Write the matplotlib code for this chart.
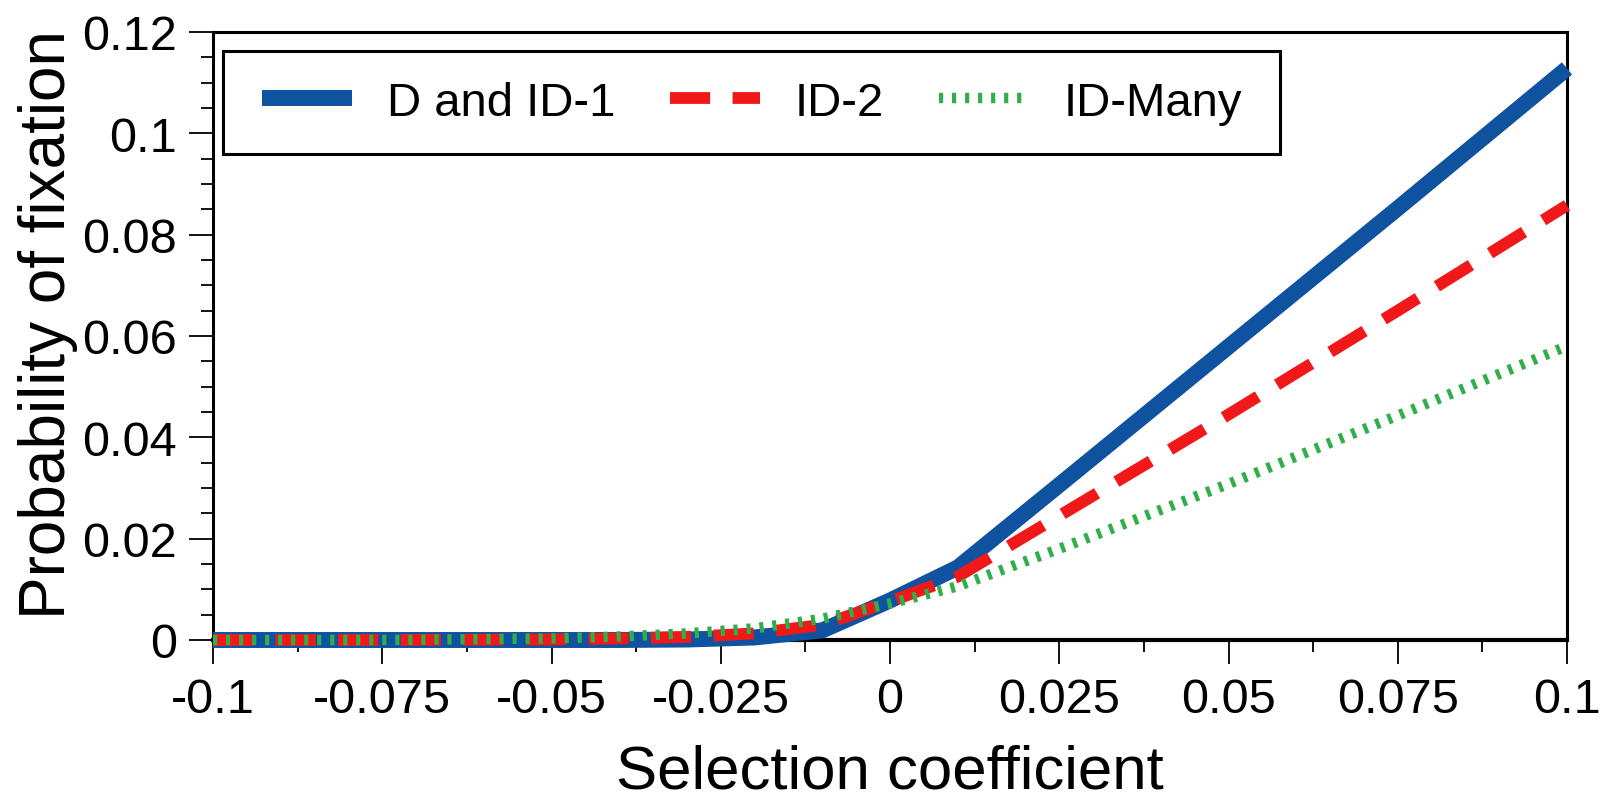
import matplotlib
matplotlib.use("Agg")
import matplotlib.pyplot as plt
from matplotlib.patches import Rectangle
from matplotlib.ticker import MultipleLocator

plt.rcParams['font.family'] = ['Liberation Sans', 'DejaVu Sans']

# selection coefficient and fixation probabilities
s = [-0.1, -0.075, -0.05, -0.04, -0.03, -0.02, -0.01, 0, 0.01, 0.025, 0.05, 0.075, 0.1]
d_id1 = [0, 0, 0, 0, 0.0001, 0.0005, 0.0019, 0.0078, 0.0143, 0.0306, 0.0579, 0.0852, 0.1128]
id2 = [0, 0, 0.0001, 0.0003, 0.0006, 0.0013, 0.003, 0.0076, 0.0125, 0.0245, 0.0445, 0.065, 0.0858]
id_many = [0, 0, 0.0003, 0.0007, 0.0013, 0.0023, 0.0042, 0.0072, 0.0106, 0.018, 0.0308, 0.0443, 0.058]

labels = ["D and ID-1", "ID-2", "ID-Many"]
xticks = [-0.1, -0.075, -0.05, -0.025, 0, 0.025, 0.05, 0.075, 0.1]
xticklabels = ["-0.1", "-0.075", "-0.05", "-0.025", "0", "0.025", "0.05", "0.075", "0.1"]
yticks = [0, 0.02, 0.04, 0.06, 0.08, 0.1, 0.12]
yticklabels = ["0", "0.02", "0.04", "0.06", "0.08", "0.1", "0.12"]

fig = plt.figure(figsize=(16.02, 8.03), dpi=100)
ax = fig.add_axes([213 / 1602, 1 - 641 / 803, 1354 / 1602, 608 / 803])

ax.plot(s, d_id1, color="#0f53a0", lw=11.5, solid_capstyle="butt", clip_on=False, label=labels[0], zorder=3)
ax.plot(s, id2, color="#f01818", lw=8.5, linestyle=(0, (3.4, 1.9)), clip_on=False, label=labels[1], zorder=4)
ax.plot(s, id_many, color="#2fae4a", lw=7.5, linestyle=(0, (0.4, 0.85)), clip_on=False, label=labels[2], zorder=5)

ax.set_xlim(-0.1, 0.1)
ax.set_ylim(0, 0.12)
ax.set_xticks(xticks)
ax.set_xticklabels(xticklabels)
ax.set_yticks(yticks)
ax.set_yticklabels(yticklabels)
ax.xaxis.set_minor_locator(MultipleLocator(0.0125))
ax.yaxis.set_minor_locator(MultipleLocator(0.005))

ax.tick_params(which="major", direction="out", length=17, width=1.3, labelsize=35, pad=9)
ax.tick_params(which="minor", direction="out", length=8.5, width=1.3)
ax.tick_params(axis="x", which="major", pad=10)

for sp in ax.spines.values():
    sp.set_linewidth(2.2)
ax.spines["bottom"].set_linewidth(3)

ax.set_xlabel("Selection coefficient", fontsize=44.5)
ax.set_ylabel("Probability of fixation", fontsize=46)
ax.xaxis.set_label_coords(0.5, -0.171)
ax.yaxis.set_label_coords(-0.10, 0.521)

# legend box drawn separately so the padding matches the original
ax.add_patch(Rectangle((0.0074, 0.7993), 0.7806, 0.1695, transform=ax.transAxes,
                       facecolor="white", edgecolor="black", lw=2.2, zorder=6, clip_on=False))
leg = ax.legend(loc="center left", bbox_to_anchor=(0.0362, 0.884), ncol=3, frameon=False,
                fontsize=34, borderpad=0, borderaxespad=0, handlelength=1.9,
                handletextpad=0.74, columnspacing=1.16)
leg.set_zorder(7)

fig.savefig("out.png", dpi=100)
